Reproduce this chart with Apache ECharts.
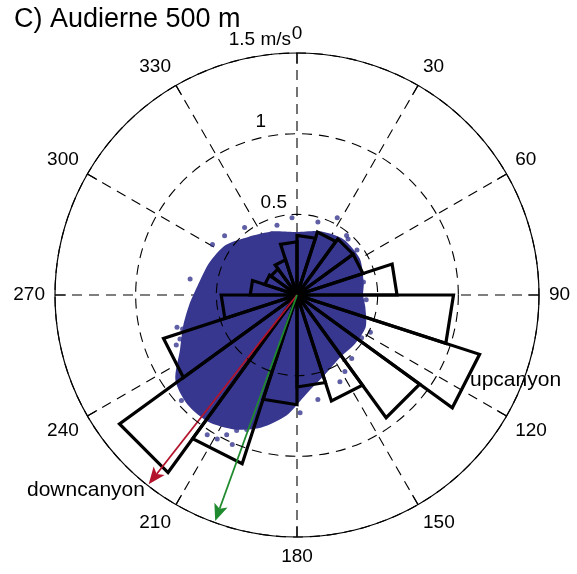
<!DOCTYPE html>
<html>
<head>
<meta charset="utf-8">
<script src="https://cdn.jsdelivr.net/npm/echarts@6/dist/echarts.min.js"></script>
<style>
  html, body { margin: 0; padding: 0; background: #fff; }
  #chart { width: 577px; height: 574px; }
</style>
</head>
<body>
<div id="chart"></div>
<script>
// Rose histogram of current direction (18-degree bins), lengths in the radial scale
const roseBinStart = [0, 18, 36, 54, 72, 90, 108, 126, 144, 162, 180, 198, 216, 234, 252, 270, 288, 306, 324, 342];
const roseLength   = [0.37, 0.41, 0.43, 0.43, 0.62, 0.97, 1.19, 0.94, 0.69, 0.57, 0.68, 1.10, 1.36, 0.87, 0.47, 0.29, 0.21, 0.20, 0.23, 0.33];
const roseBinWidth = 18;

// Outline of the dense cloud of velocity samples (bearing in degrees, speed in m/s)
const cloudBearing = [0, 20, 40, 60, 80, 90, 100, 115, 130, 145, 160, 175, 185, 195, 205, 215, 225, 235, 245, 255, 265, 275, 290, 305, 320, 340];
const cloudSpeed   = [0.39, 0.42, 0.45, 0.45, 0.42, 0.41, 0.43, 0.47, 0.47, 0.47, 0.52, 0.62, 0.75, 0.85, 0.92, 0.96, 0.96, 0.92, 0.80, 0.73, 0.67, 0.62, 0.58, 0.54, 0.47, 0.42];

// Isolated samples outside the dense core
const sampleBearing = [278.5, 253.4, 249.4, 226.2, 223, 219.1, 255, 247.5, 231.7, 227.7, 212.7, 209, 206.7, 204, 200.5, 356.3, 27.5, 39.8, 344, 337.7, 328.9, 42.3, 78.9, 116.9, 139.3, 153.7, 168.7, 294, 305.6,
                       300.8, 309.3, 322.2, 16, 53.1, 94, 123.5, 148, 178.5, 267, 239.9, 227.6, 203.4, 197.3];
const sampleSpeed   = [0.67, 0.74, 0.775, 0.806, 0.88, 0.935, 0.77, 0.81, 0.90, 0.92, 1.03, 1.02, 0.97, 0.92, 0.89, 0.48, 0.54, 0.48, 0.45, 0.41, 0.38, 0.47, 0.42, 0.51, 0.52, 0.60, 0.66, 0.54, 0.51,
                       0.61, 0.58, 0.53, 0.47, 0.465, 0.43, 0.48, 0.56, 0.73, 0.63, 0.80, 0.97, 1.01, 0.81];

// Direction arrows (downcanyon axis and mean flow)
const arrowBearing = [218.1, 199.9];
const arrowSpeed   = [1.49, 1.49];
const arrowColor   = ['#b3142c', '#1f8a2e'];

// Radial ticks and their labels
const radialTicks  = [0, 0.5, 1, 1.5];
const radialLabels = ['', '{a|0.5}', '{b|1}', '{c|1.5 m/s}'];

const FONT = "'Liberation Sans', Arial, Helvetica, sans-serif";
const cloudColor = '#37378f';
const radialText = { fontFamily: FONT, fontSize: 19, color: '#000' };

const chart = echarts.init(document.getElementById('chart'), null, { renderer: 'canvas' });

const option = {
  animation: false,
  backgroundColor: '#fff',
  title: {
    text: 'C) Audierne 500 m',
    left: 9, top: 1,
    textStyle: { fontFamily: FONT, fontSize: 27, fontWeight: 'normal', color: '#000' }
  },
  polar: { center: [297, 295], radius: 242 },
  angleAxis: {
    type: 'value', min: 0, max: 360, interval: 30,
    startAngle: 90, clockwise: true,
    axisLine: { show: true, lineStyle: { color: '#000', width: 1.2 } },
    axisTick: { show: true, inside: true, length: 11, lineStyle: { color: '#000', width: 1.2 } },
    splitLine: { show: true, lineStyle: { color: '#000', width: 1.1, type: [10, 7] } },
    axisLabel: {
      show: true, margin: 10, color: '#000', fontFamily: FONT, fontSize: 19,
      formatter: v => (v === 360 ? '' : String(v))
    }
  },
  radiusAxis: {
    type: 'value', min: 0, max: 1.5, interval: 0.5,
    axisLine: { show: false },
    axisTick: { show: false },
    splitLine: { show: true, lineStyle: { color: '#000', width: 1.1, type: [10, 7] } },
    axisLabel: {
      show: true, margin: 6, color: '#000', fontFamily: FONT, fontSize: 19,
      align: 'right', verticalAlign: 'bottom',
      formatter: v => {
        const i = radialTicks.indexOf(v);
        return i < 0 ? '' : radialLabels[i];
      },
      rich: {
        a: Object.assign({ padding: [0, 4, 2, 0] }, radialText),
        b: Object.assign({ padding: [0, 25, 2, 0] }, radialText),
        c: Object.assign({ padding: [0, 0, 4, 0] }, radialText)
      }
    },
    z: 10
  },
  graphic: [
    { type: 'text', left: 470, top: 370, z: 100,
      style: { text: 'upcanyon', fontFamily: FONT, fontSize: 21, fill: '#000' } },
    { type: 'text', left: 27, top: 480, z: 100,
      style: { text: 'downcanyon', fontFamily: FONT, fontSize: 21, fill: '#000' } }
  ],
  series: [
    {
      // dense core of the sample cloud
      type: 'custom', coordinateSystem: 'polar', z: 2, silent: true,
      data: [[0, 0]],
      renderItem: (params, api) => {
        const pts = cloudBearing.map((b, i) => api.coord([cloudSpeed[i], b]));
        return { type: 'polygon', shape: { points: pts, smooth: 0.25 }, style: { fill: cloudColor, stroke: null } };
      }
    },
    {
      type: 'scatter', coordinateSystem: 'polar', z: 3, silent: true,
      symbol: 'circle', symbolSize: 5,
      itemStyle: { color: cloudColor },
      data: sampleBearing.map((b, i) => [sampleSpeed[i], b])
    },
    {
      // rose histogram wedges with straight outer edges
      type: 'custom', coordinateSystem: 'polar', z: 4, silent: true,
      data: roseLength.map((v, i) => [v, roseBinStart[i] + roseBinWidth / 2]),
      renderItem: (params, api) => {
        const i = params.dataIndex;
        const c = api.coord([0, 0]);
        const a = api.coord([roseLength[i], roseBinStart[i]]);
        const b = api.coord([roseLength[i], roseBinStart[i] + roseBinWidth]);
        return {
          type: 'polygon',
          shape: { points: [c, a, b] },
          style: { fill: 'none', stroke: '#000', lineWidth: 3.2, lineJoin: 'miter' }
        };
      }
    },
    {
      // direction arrows
      type: 'custom', coordinateSystem: 'polar', z: 5, silent: true,
      data: arrowBearing.map((b, i) => [arrowSpeed[i], b]),
      renderItem: (params, api) => {
        const i = params.dataIndex;
        const c = api.coord([0, 0]);
        const t = api.coord([arrowSpeed[i], arrowBearing[i]]);
        const dx = t[0] - c[0], dy = t[1] - c[1];
        const L = Math.sqrt(dx * dx + dy * dy);
        const ux = dx / L, uy = dy / L;
        const hl = 17, hw = 7;
        const bx = t[0] - ux * hl, by = t[1] - uy * hl;
        const nx = t[0] - ux * (hl - 4), ny = t[1] - uy * (hl - 4);
        return {
          type: 'group',
          children: [
            { type: 'line', shape: { x1: c[0], y1: c[1], x2: nx, y2: ny },
              style: { stroke: arrowColor[i], lineWidth: 1.8 } },
            { type: 'polygon',
              shape: { points: [t, [bx - uy * hw, by + ux * hw], [nx, ny], [bx + uy * hw, by - ux * hw]] },
              style: { fill: arrowColor[i], stroke: null } }
          ]
        };
      }
    }
  ]
};

chart.setOption(option);
</script>
</body>
</html>
